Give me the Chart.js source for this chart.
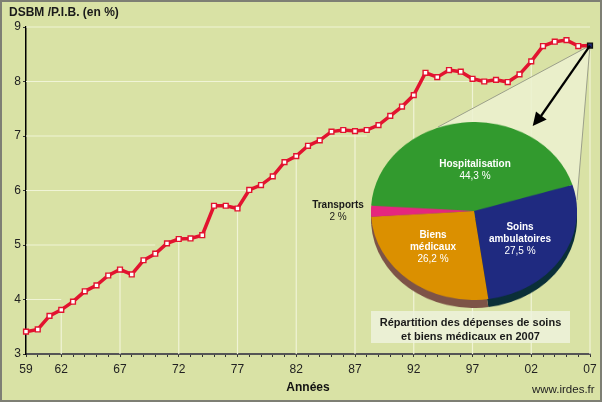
<!DOCTYPE html>
<html lang="fr">
<head>
<meta charset="utf-8">
<title>DSBM / P.I.B.</title>
<script src="https://cdn.jsdelivr.net/npm/chart.js@4/dist/chart.umd.min.js"></script>
<style>
	html, body { margin: 0; padding: 0; background: #d9e2a5; overflow: hidden; }
	#page { position: relative; width: 602px; height: 402px; overflow: hidden; font-family: "Liberation Sans", Arial, sans-serif; }
	#page canvas { position: absolute; }
	#frame { position: absolute; left: 0; top: 0; width: 598px; height: 398px; border: 2px solid #7e7f74; }
	#pieSide, #pieTop { transform-origin: 0 0; transform: scaleY(0.864); left: 371px; }
	#pieSide { top: 130px; }
	#pieTop { top: 121.5px; }
	#caption { position: absolute; left: 371px; top: 311px; width: 199px; height: 32px; background: rgba(239, 244, 224, 0.8); color: #1a1a1a; font-weight: bold; font-size: 11px; line-height: 14px; text-align: center; padding-top: 4px; box-sizing: border-box; }
	#site { position: absolute; left: 532px; top: 383px; font-size: 11.5px; color: #222; }
	.pieLabel { position: absolute; width: 120px; margin-left: -60px; text-align: center; font-size: 10px; line-height: 12px; color: #fff; }
	.pieLabel b { display: block; }
</style>
</head>
<body>
<div id="page">
	<canvas id="graph" width="602" height="402"></canvas>
	<canvas id="pieSide" width="206" height="206"></canvas>
	<canvas id="pieTop" width="206" height="206"></canvas>
	<div id="caption">Répartition des dépenses de soins<br>et biens médicaux en 2007</div>
	<div id="site">www.irdes.fr</div>
	<div id="frame"></div>
</div>
<script>
const years = [
	1959, 1960, 1961, 1962, 1963, 1964, 1965, 1966, 1967, 1968, 1969, 1970, 1971, 1972, 1973, 1974, 1975,
	1976, 1977, 1978, 1979, 1980, 1981, 1982, 1983, 1984, 1985, 1986, 1987, 1988, 1989, 1990, 1991, 1992,
	1993, 1994, 1995, 1996, 1997, 1998, 1999, 2000, 2001, 2002, 2003, 2004, 2005, 2006, 2007,
];
const dsbm = [
	3.41, 3.45, 3.7, 3.81, 3.96, 4.15, 4.26, 4.44, 4.55, 4.46, 4.72, 4.84, 5.03, 5.11, 5.12, 5.18, 5.72,
	5.72, 5.67, 6.01, 6.1, 6.26, 6.52, 6.63, 6.82, 6.92, 7.08, 7.11, 7.09, 7.11, 7.2, 7.37, 7.54, 7.75,
	8.16, 8.08, 8.21, 8.18, 8.05, 8.0, 8.03, 7.99, 8.13, 8.37, 8.65, 8.73, 8.76, 8.65, 8.66,
];
const labelledYears = [1959, 1962, 1967, 1972, 1977, 1982, 1987, 1992, 1997, 2002, 2007];

// horizontal grid lines stop at the curve
const gridValues = [4, 5, 6, 7, 8, 9];
const gridEndYears = [1962, 1970, 1978, 1988, 2000.3, 2007];

const pieNames = [["Hospitalisation"], ["Soins", "ambulatoires"], ["Biens", "médicaux"], ["Transports"]];
const pieValues = [44.3, 27.5, 26.2, 2];
const pieColors = ["#329a2e", "#1f2a80", "#db9000", "#e5277e"];
const pieSideColors = ["#329a2e", "#0a2f38", "#7d5347", "#7d5347"];

Chart.defaults.font.family = '"Liberation Sans", Arial, sans-serif';
Chart.defaults.font.size = 12;
Chart.defaults.color = "#222";

const lastYear = years[years.length - 1];

const backdrop = {
	id: "backdrop",
	beforeDatasetsDraw(chart) {
		const ctx = chart.ctx;
		const x = chart.scales.x;
		const y = chart.scales.y;
		ctx.save();
		ctx.strokeStyle = "#f0f4d6";
		ctx.lineWidth = 1.2;
		gridValues.forEach((v, i) => {
			ctx.beginPath();
			ctx.moveTo(x.left, y.getPixelForValue(v));
			ctx.lineTo(x.getPixelForValue(gridEndYears[i]), y.getPixelForValue(v));
			ctx.stroke();
		});
		labelledYears.slice(1).forEach((yr) => {
			ctx.beginPath();
			ctx.moveTo(x.getPixelForValue(yr), y.bottom);
			ctx.lineTo(x.getPixelForValue(yr), y.getPixelForValue(dsbm[years.indexOf(yr)]));
			ctx.stroke();
		});

		// zoom wedge from the last point down to the pie
		const px = x.getPixelForValue(lastYear);
		const py = y.getPixelForValue(dsbm[dsbm.length - 1]);
		ctx.beginPath();
		ctx.moveTo(px, py);
		ctx.lineTo(438, 127);
		ctx.lineTo(474, 210);
		ctx.lineTo(577, 200);
		ctx.closePath();
		ctx.fillStyle = "rgba(236, 241, 208, 0.85)";
		ctx.fill();
		ctx.strokeStyle = "#9b9f8a";
		ctx.lineWidth = 1;
		ctx.beginPath();
		ctx.moveTo(438, 127);
		ctx.lineTo(px, py);
		ctx.lineTo(577, 200);
		ctx.stroke();
		ctx.restore();
	},
	afterDatasetsDraw(chart) {
		const ctx = chart.ctx;
		const px = chart.scales.x.getPixelForValue(lastYear);
		const py = chart.scales.y.getPixelForValue(dsbm[dsbm.length - 1]);
		ctx.save();
		ctx.strokeStyle = "#000";
		ctx.fillStyle = "#000";
		ctx.lineWidth = 2.2;
		ctx.beginPath();
		ctx.moveTo(px, py);
		ctx.lineTo(541, 116);
		ctx.stroke();
		ctx.beginPath();
		ctx.moveTo(532.7, 126);
		ctx.lineTo(536, 111.5);
		ctx.lineTo(541, 115.5);
		ctx.lineTo(546.7, 119.5);
		ctx.closePath();
		ctx.fill();
		ctx.restore();
	},
};

new Chart(document.getElementById("graph").getContext("2d"), {
	type: "line",
	data: {
		datasets: [
			{
				data: years.map((yr, i) => ({ x: yr, y: dsbm[i] })),
				borderColor: "#e2132f",
				borderWidth: 3.5,
				tension: 0,
				clip: false,
				pointStyle: "rect",
				pointRadius: 3.4,
				pointBorderWidth: 1.4,
				pointBorderColor: years.map((yr) => (yr === lastYear ? "#101010" : "#e2132f")),
				pointBackgroundColor: years.map((yr) => (yr === lastYear ? "#1f2a80" : "#fff")),
			},
		],
	},
	options: {
		responsive: false,
		animation: false,
		events: [],
		layout: { padding: { left: 9, right: 12, top: 0, bottom: 0 } },
		plugins: {
			legend: { display: false },
			tooltip: { enabled: false },
			title: {
				display: true,
				text: "DSBM /P.I.B. (en %)",
				align: "start",
				color: "#1a1a1a",
				font: { size: 12, weight: "bold" },
				padding: { top: 5, bottom: 7.6 },
			},
		},
		scales: {
			x: {
				type: "linear",
				min: 1959,
				max: 2007,
				afterFit: (scale) => { scale.height = 48; },
				title: {
					display: true,
					text: "Années",
					color: "#111",
					font: { size: 12, weight: "bold" },
					padding: { top: 0, bottom: 7 },
				},
				border: { color: "#555", width: 2 },
				grid: { drawOnChartArea: false, color: "#333", tickLength: 3 },
				ticks: {
					stepSize: 1,
					autoSkip: false,
					maxRotation: 0,
					padding: 5,
					callback: (v) => (labelledYears.includes(v) ? String(v).slice(2) : ""),
				},
			},
			y: {
				min: 3,
				max: 9,
				afterFit: (scale) => { scale.width = 17; },
				border: { color: "#000", width: 1.5 },
				grid: { drawOnChartArea: false, color: "#333", tickLength: 3 },
				ticks: { stepSize: 1, padding: 2 },
			},
		},
	},
	plugins: [backdrop],
});

function drawPie(id, colors) {
	return new Chart(document.getElementById(id).getContext("2d"), {
		type: "pie",
		data: {
			labels: pieNames.map((n) => n.join(" ")),
			datasets: [{ data: pieValues, backgroundColor: colors, borderWidth: 0 }],
		},
		options: {
			responsive: false,
			animation: false,
			events: [],
			rotation: 273.5,
			plugins: { legend: { display: false }, tooltip: { enabled: false } },
		},
	});
}
drawPie("pieSide", pieSideColors);
drawPie("pieTop", pieColors);

// label centres, same order as pieNames
const labelX = [475, 520, 433, 338];
const labelY = [158, 221, 229, 199];
const labelColors = ["#fff", "#fff", "#fff", "#1a1a1a"];
pieNames.forEach((lines, i) => {
	const el = document.createElement("div");
	el.className = "pieLabel";
	el.style.left = labelX[i] + "px";
	el.style.top = labelY[i] + "px";
	el.style.color = labelColors[i];
	lines.forEach((line) => {
		const b = document.createElement("b");
		b.textContent = line;
		el.appendChild(b);
	});
	el.appendChild(document.createTextNode(String(pieValues[i]).replace(".", ",") + " %"));
	document.getElementById("page").appendChild(el);
});
</script>
</body>
</html>
